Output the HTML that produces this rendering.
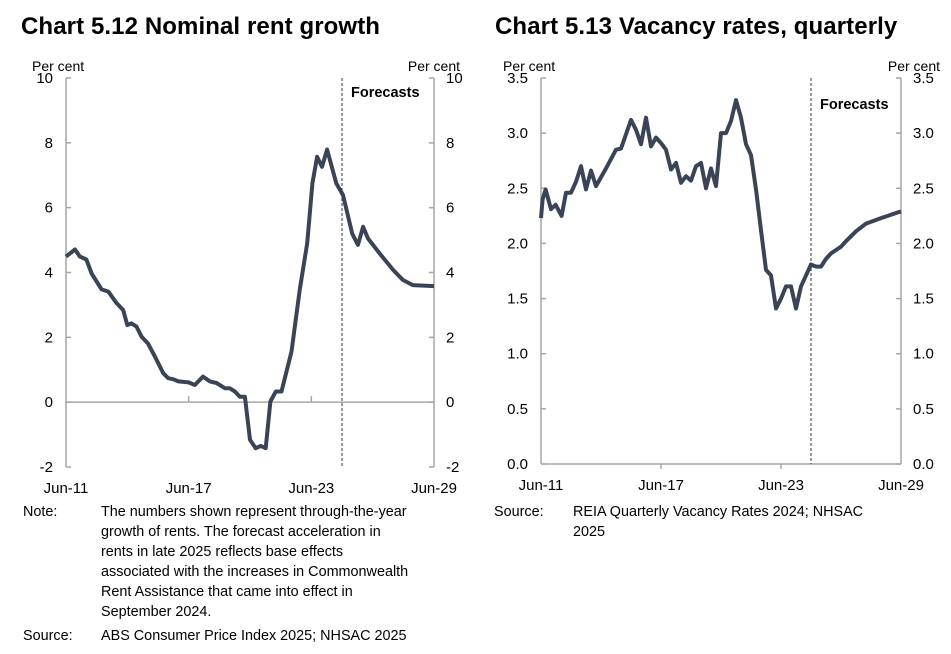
<!DOCTYPE html>
<html><head><meta charset="utf-8"><style>
body{margin:0;width:951px;height:654px;background:#fff;font-family:"Liberation Sans",Arial,sans-serif;position:relative;overflow:hidden}
.t{position:absolute;white-space:nowrap;color:#000}
.title{font-weight:bold;font-size:24px;top:13px;letter-spacing:0.1px}
.note{font-size:14.4px;line-height:20px}
svg{position:absolute;left:0;top:0}
</style></head><body>
<div class="t title" style="left:21px">Chart 5.12 Nominal rent growth</div>
<div class="t title" style="left:495px">Chart 5.13 Vacancy rates, quarterly</div>

<div class="t note" style="left:23px;top:502px">Note:</div>
<div class="t note" style="left:101px;top:502px">The numbers shown represent through-the-year<br>growth of rents. The forecast acceleration in<br>rents in late 2025 reflects base effects<br>associated with the increases in Commonwealth<br>Rent Assistance that came into effect in<br>September 2024.</div>
<div class="t note" style="left:23px;top:626px">Source:</div>
<div class="t note" style="left:101px;top:626px">ABS Consumer Price Index 2025; NHSAC 2025</div>
<div class="t note" style="left:494px;top:502px">Source:</div>
<div class="t note" style="left:573px;top:502px">REIA Quarterly Vacancy Rates 2024; NHSAC<br>2025</div>

<svg id="svg" width="951" height="654"></svg>
<script>
const rentX=[0,0.44,0.68,1.0,1.25,1.74,2.07,2.48,2.8,3.0,3.2,3.45,3.7,4.0,4.35,4.76,5.0,5.24,5.5,6.0,6.3,6.7,7.04,7.36,7.77,8.0,8.26,8.5,8.75,9.0,9.28,9.53,9.77,10.0,10.26,10.54,11.03,11.43,11.8,12.05,12.28,12.52,12.77,13.22,13.55,14.0,14.28,14.53,14.77,15.34,16.0,16.48,16.97,18.0];
const rentY=[4.49,4.71,4.49,4.4,3.97,3.48,3.41,3.05,2.84,2.38,2.43,2.33,2.02,1.82,1.41,0.89,0.74,0.71,0.64,0.61,0.53,0.79,0.64,0.59,0.43,0.43,0.33,0.17,0.17,-1.16,-1.42,-1.35,-1.42,0.02,0.33,0.33,1.56,3.46,4.9,6.75,7.57,7.26,7.79,6.75,6.39,5.2,4.85,5.41,5.05,4.59,4.08,3.77,3.61,3.58];
const vacX=[0,0.08,0.23,0.5,0.73,1.03,1.25,1.5,1.75,2.0,2.25,2.5,2.75,3.25,3.75,4.0,4.5,4.75,5.0,5.25,5.5,5.75,6.0,6.25,6.5,6.75,7.0,7.25,7.5,7.75,8.0,8.25,8.5,8.75,9.0,9.25,9.5,9.75,10.0,10.25,10.5,10.75,11.0,11.25,11.5,11.75,12.0,12.25,12.5,12.75,13.0,13.25,13.5,13.75,14.0,14.25,14.5,15.0,15.25,15.75,16.25,17.0,18.0];
const vacY=[2.23,2.4,2.49,2.31,2.35,2.25,2.46,2.46,2.56,2.7,2.49,2.66,2.52,2.68,2.85,2.86,3.12,3.03,2.9,3.14,2.88,2.96,2.91,2.85,2.67,2.73,2.55,2.61,2.57,2.7,2.73,2.5,2.68,2.52,3.0,3.0,3.11,3.3,3.14,2.9,2.8,2.49,2.12,1.76,1.71,1.41,1.5,1.61,1.61,1.41,1.61,1.71,1.81,1.79,1.79,1.86,1.91,1.97,2.02,2.11,2.18,2.23,2.29];
const xTickLabels=["Jun-11","Jun-17","Jun-23","Jun-29"];
const xTickYears=[0,6,12,18];
const rentTicks=[-2,0,2,4,6,8,10];
const vacTicks=[0,0.5,1,1.5,2,2.5,3,3.5];
const forecastYear=13.5;
const NS="http://www.w3.org/2000/svg";
const svg=document.getElementById('svg');
function el(t,a,p){const e=document.createElementNS(NS,t);for(const k in a)e.setAttribute(k,a[k]);(p||svg).appendChild(e);return e;}
function chart(o){
  const g=el('g',{});
  
  
  const sx=v=>o.x0+(o.x1-o.x0)*v/18;
  const sy=v=>o.y1+(o.y0-o.y1)*(v-o.min)/(o.max-o.min);
  const ax='#a6a6a6';
  el('line',{x1:o.x0,y1:o.y0,x2:o.x0,y2:o.y1,stroke:ax,'stroke-width':1.5},g);
  el('line',{x1:o.x1,y1:o.y0,x2:o.x1,y2:o.y1,stroke:ax,'stroke-width':1.5},g);
  const base=sy(o.baseVal);
  el('line',{x1:o.x0,y1:base,x2:o.x1,y2:base,stroke:ax,'stroke-width':1.5},g);
  o.ticks.forEach(v=>{
    const y=sy(v);
    el('line',{x1:o.x0,y1:y,x2:o.x0+5,y2:y,stroke:ax,'stroke-width':1.5},g);
    el('line',{x1:o.x1-5,y1:y,x2:o.x1,y2:y,stroke:ax,'stroke-width':1.5},g);
    const s=o.fmt(v);
    const a=el('text',{x:o.x0-13,y:y+5,'text-anchor':'end','font-size':15,fill:'#000'},g);a.textContent=s;
    
    const b=el('text',{x:o.x1+12,y:y+5,'text-anchor':'start','font-size':15,fill:'#000'},g);b.textContent=s;
    
  });
  xTickYears.forEach((yr,i)=>{
    const x=sx(yr);
    if(i>0&&i<3)el('line',{x1:x,y1:base,x2:x,y2:base+o.xt,stroke:ax,'stroke-width':1.5},g);
    const t=el('text',{x:x,y:o.y1+26,'text-anchor':'middle','font-size':15,fill:'#000'},g);t.textContent=xTickLabels[i];
    
  });
  const pl=el('text',{x:o.x0+o.plx,y:o.y0-7,'font-size':14,fill:'#000'},g);pl.textContent='Per cent';
  
  const pr=el('text',{x:o.x1+o.prx,y:o.y0-7,'font-size':14,'text-anchor':'end',fill:'#000'},g);pr.textContent='Per cent';
  
  const fx=sx(forecastYear);
  const d=el('line',{x1:fx,y1:o.y0,x2:fx,y2:o.y1,stroke:'#333','stroke-width':1,'stroke-dasharray':'3,2'},g);
  
  const ft=el('text',{x:fx+9,y:o.fy,'font-size':14.5,'font-weight':'bold',fill:'#000'},g);ft.textContent='Forecasts';
  
  const pts=o.xs.map((x,i)=>sx(x).toFixed(1)+','+sy(o.ys[i]).toFixed(1)).join(' ');
  const line=el('polyline',{points:pts,fill:'none',stroke:'#3b4457','stroke-width':4,'stroke-linejoin':'round'},g);
  
}
chart({name:'rent-growth-chart',series:'rent-growth-line',x0:66,x1:434,y0:78,y1:467,min:-2,max:10,ticks:rentTicks,baseVal:0,xt:-6,fy:97,plx:-34,prx:26,fmt:v=>String(v),xs:rentX,ys:rentY});
chart({name:'vacancy-chart',series:'vacancy-rate-line',x0:541,x1:901,y0:78,y1:464,min:0,max:3.5,ticks:vacTicks,baseVal:0,xt:5,fy:109,plx:-38,prx:39,fmt:v=>v.toFixed(1),xs:vacX,ys:vacY});
</script>
</body></html>
